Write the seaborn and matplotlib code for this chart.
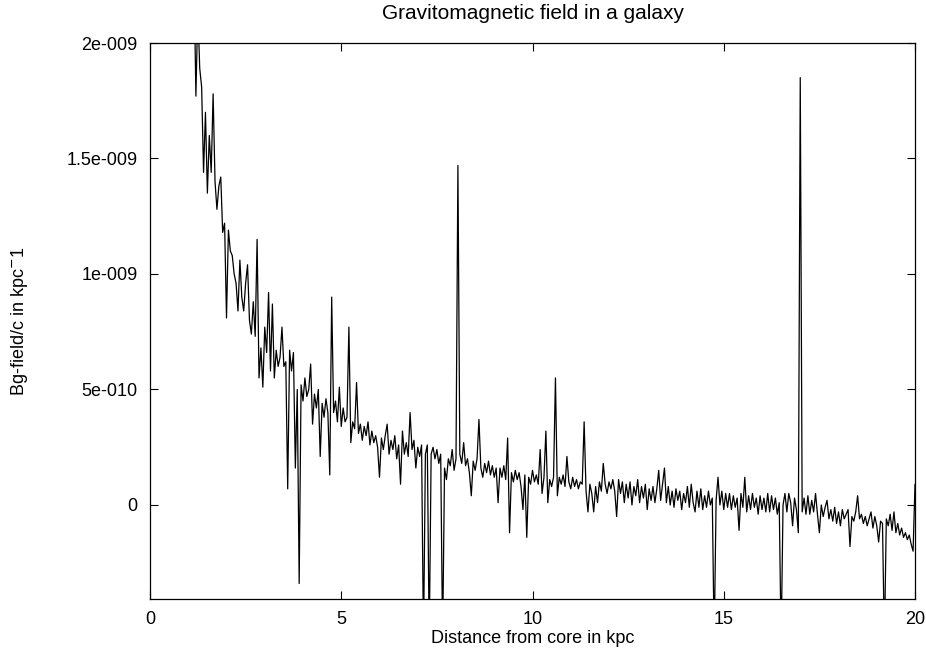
import seaborn as sns
import matplotlib.pyplot as plt
import numpy as np
import pandas as pd

# Bg-field/c, in units of 1e-11 kpc^-1
# sampled every 0.05 kpc starting at 1.15 kpc (one row = 1 kpc)
r_start = 1.15
r_step = 0.05
field = [
    230, 177, 215, 189, 181, 144, 170, 135, 160, 144, 178, 140, 128, 138, 142, 118, 122, 81, 119, 110,
    108, 100, 96, 84, 106, 90, 84, 96, 104, 80, 74, 88, 73, 115, 55, 68, 51, 77, 66, 92,
    58, 87, 55, 67, 60, 64, 77, 60, 62, 7, 67, 58, 66, 16, 50, -34, 52, 45, 55, 47,
    50, 61, 35, 48, 42, 50, 21, 44, 38, 46, 40, 13, 90, 40, 45, 36, 51, 34, 42, 36,
    38, 77, 27, 36, 33, 53, 31, 35, 28, 34, 30, 36, 26, 32, 27, 30, 25, 12, 29, 24,
    30, 35, 22, 28, 24, 30, 20, 26, 9, 32, 22, 27, 21, 40, 24, 28, 16, 25, 21, 26,
    -60, 22, 26, -60, 22, 25, 20, 24, 18, 22, -60, 16, 11, 20, 17, 24, 15, 20, 147, 22,
    18, 27, 17, 20, 14, 4, 19, 15, 20, 37, 16, 12, 18, 14, 19, 13, 17, 12, 16, 1,
    16, 12, 17, 11, 29, -12, 14, 10, 15, 11, 14, 8, -2, 13, -14, 12, 9, 15, 10, 13,
    9, 24, 5, 12, 32, 1, 11, 8, 12, 55, 4, 12, 9, 13, 8, 21, 10, 7, 12, 8,
    11, 7, 10, 9, 36, 6, -3, 9, 5, -3, 8, 1, 10, 6, 18, 9, 5, 10, 7, 11,
    6, -5, 11, 5, 10, 1, 9, 3, 10, 0, 8, 4, 11, 1, 8, 3, 9, -2, 7, 2,
    8, 1, 7, 15, 2, 9, 16, 1, 8, 0, 6, -1, 7, 2, 6, -2, 5, 1, 8, -1,
    9, 1, -3, 6, -1, 7, -2, 4, -1, 6, 0, 3, -60, 2, 12, 0, 6, -2, 5, -1,
    5, -2, 4, -1, 3, -11, 5, -1, 12, -3, 4, -2, 5, -1, 3, -4, 4, -2, 3, -3,
    5, -3, 4, -2, 3, -4, 1, -60, 0, 5, -3, 5, 1, -9, 3, -2, -12, 185, -3, 3,
    -4, 4, -4, 2, -3, 5, -4, -12, 0, -5, -1, 2, -6, -2, -7, -1, -8, -3, -9, -2,
    -6, -4, -2, -18, -5, -7, -3, 4, -6, -4, -8, -5, -9, -6, -3, -10, -5, -9, -16, -7,
    -8, -60, -6, -9, -4, -11, -3, -12, -8, -13, -10, -14, -12, -15, -13, -17, -20, 9,
]

x_ticks = [0, 5, 10, 15, 20]
y_ticks = [2e-9, 1.5e-9, 1e-9, 5e-10, 0]
y_tick_labels = ["2e-009", "1.5e-009", "1e-009", "5e-010", "0"]

df = pd.DataFrame({
    "r": r_start + r_step * np.arange(len(field)),
    "B": np.array(field) * 1e-11,
})

sns.set_style("ticks")
plt.rcParams["font.family"] = ["Liberation Sans", "DejaVu Sans"]
plt.rcParams["font.size"] = 13
plt.rcParams["text.color"] = "black"
plt.rcParams["axes.labelcolor"] = "black"
plt.rcParams["xtick.color"] = "black"
plt.rcParams["ytick.color"] = "black"

fig = plt.figure(figsize=(9.26, 6.55), dpi=100)
ax = fig.add_axes([150 / 926, 1 - 599 / 655, 765 / 926, 556 / 655])

sns.lineplot(data=df, x="r", y="B", color="black", linewidth=0.9, ax=ax)

ax.set_xlim(0, 20)
ax.set_ylim(-4.07e-10, 2e-9)
ax.set_xticks(x_ticks)
ax.set_xticklabels([str(t) for t in x_ticks])
ax.set_yticks(y_ticks)
ax.set_yticklabels(y_tick_labels)
ax.tick_params(direction="in", top=True, right=True, length=6, width=0.8,
               color="black", labelcolor="black", labelsize=13, pad=9)

for s in ax.spines.values():
    s.set_color("black")
    s.set_linewidth(0.9)

ax.set_title("Gravitomagnetic field in a galaxy", fontsize=15, y=1.043, pad=0,
             color="black")
ax.set_xlabel("Distance from core in kpc", fontsize=13, color="black")
ax.set_ylabel(r"Bg-field/c in kpc$^{\mathsf{-}}$1", fontsize=13, color="black")
ax.xaxis.set_label_coords(0.5, -0.056)
ax.yaxis.set_label_coords(-0.157, 0.5)

fig.savefig("out.png", dpi=100)
